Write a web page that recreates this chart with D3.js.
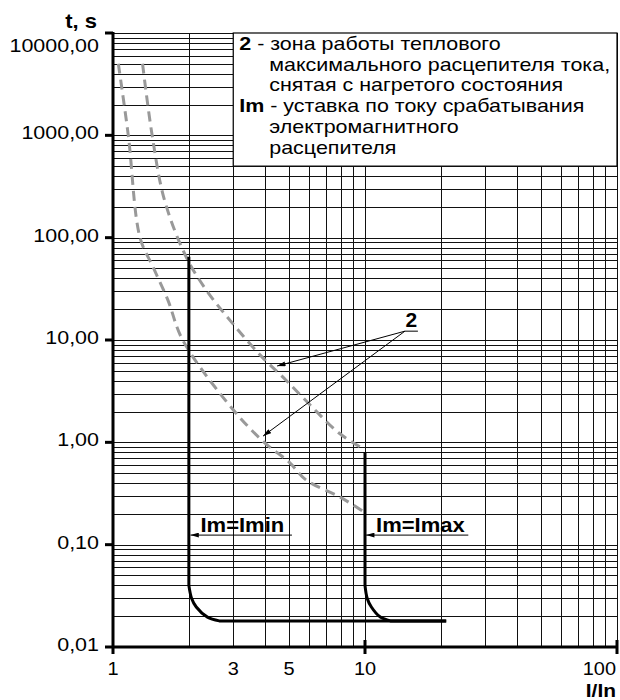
<!DOCTYPE html>
<html>
<head>
<meta charset="utf-8">
<script src="https://cdn.jsdelivr.net/npm/d3@7"></script>
<style>
  body { margin: 0; background: #fff; }
  text { font-family: "Liberation Sans", Arial, Helvetica, sans-serif; fill: #000; }
</style>
</head>
<body>
<svg id="chart" width="620" height="700"></svg>
<script>
// ---- data ----
const xDomain = [1, 100];              // I/In
const yDomain = [0.01, 10000];         // t, s
const xTickValues = [1, 3, 5, 10, 100];
const xTickLabels = ["1", "3", "5", "10", "100"];
const yTickValues = [10000, 1000, 100, 10, 1, 0.1, 0.01];
const yTickLabels = ["10000,00", "1000,00", "100,00", "10,00", "1,00", "0,10", "0,01"];

// thermal release zone "2" (hot state) – lower and upper boundaries
const thermalLowI  = [1.05, 1.15, 1.28, 1.44, 1.65, 1.89, 2.97, 3.98, 5.0, 5.83, 8.0, 9.86];
const thermalLowT  = [5000, 1000, 100, 52, 24.7, 10, 2.14, 1.0, 0.64, 0.43, 0.29, 0.21];
const thermalHighI = [1.31, 1.43, 1.60, 1.95, 2.34, 2.97, 3.9, 4.85, 6.16, 7.86, 9.7];
const thermalHighT = [5000, 1000, 234, 65, 31, 14.7, 6.84, 4.07, 2.22, 1.24, 0.88];

// electromagnetic release characteristics: vertical leg, knee, flat leg
const tripMinI = [2, 2, 2.05, 2.14, 2.37, 2.64, 21];
const tripMinT = [65, 0.04, 0.03, 0.0246, 0.0196, 0.018, 0.018];
const tripMaxI = [10, 10, 10.2, 10.6, 11.5, 12.6, 21];
const tripMaxT = [0.8, 0.04, 0.03, 0.0246, 0.0196, 0.018, 0.018];

// legend lines
const legendLines = [
  { key: "2", text: " - зона работы теплового" },
  { key: "",  text: "максимального расцепителя тока," },
  { key: "",  text: "снятая с нагретого состояния" },
  { key: "Im", text: " - уставка по току срабатывания" },
  { key: "",  text: "электромагнитного" },
  { key: "",  text: "расцепителя" }
];

// ---- layout ----
const svg = d3.select("#chart");
const plotLeft = 113, plotRight = 617, plotTop = 33, plotBottom = 647;
const stretch = 1.13;   // the lettering is set slightly wide

const x = d3.scaleLog().domain(xDomain).range([plotLeft, plotRight]);
const y = d3.scaleLog().domain(yDomain).range([plotBottom, plotTop]);

function label(parent, px, py, str, size, opts = {}) {
  const t = parent.append("text")
    .attr("transform", `translate(${px},${py}) scale(${opts.sx || stretch},1)`)
    .attr("font-size", size)
    .attr("text-anchor", opts.anchor || "start")
    .attr("font-weight", opts.bold ? "bold" : null);
  if (str !== null) t.text(str);
  return t;
}

// arrow marker
const defs = svg.append("defs");
defs.append("marker")
  .attr("id", "arrow")
  .attr("viewBox", "0 0 10 6")
  .attr("refX", 10).attr("refY", 3)
  .attr("markerWidth", 9).attr("markerHeight", 5)
  .attr("markerUnits", "userSpaceOnUse")
  .attr("orient", "auto")
  .append("path").attr("d", "M0,0 L10,3 L0,6 Z").attr("fill", "#000");

// ---- grid ----
const xGrid = [];
for (let d = 1; d < 100; d *= 10) for (let k = 1; k <= 9; k++) xGrid.push(k * d);
xGrid.push(100);
const yGrid = [];
for (let d = 0.01; d < 10000; d *= 10) for (let k = 1; k <= 9; k++) yGrid.push(+(k * d).toPrecision(3));
yGrid.push(10000);

const grid = svg.append("g").attr("shape-rendering", "crispEdges");
grid.selectAll("line.h").data(yGrid).join("line")
  .attr("x1", plotLeft).attr("x2", plotRight)
  .attr("y1", d => Math.round(y(d)) + 0.5).attr("y2", d => Math.round(y(d)) + 0.5)
  .attr("stroke", "#111").attr("stroke-width", 1);
grid.selectAll("line.v").data(xGrid).join("line")
  .attr("y1", plotTop).attr("y2", plotBottom)
  .attr("x1", d => Math.round(x(d)) + 0.5).attr("x2", d => Math.round(x(d)) + 0.5)
  .attr("stroke", "#111").attr("stroke-width", 1);

// ---- legend box (covers the grid from I=3..100, t=500..10000) ----
const lx0 = x(3), ly0 = y(10000), ly1 = y(500);
svg.append("rect")
  .attr("x", lx0).attr("y", ly0)
  .attr("width", plotRight - lx0).attr("height", ly1 - ly0)
  .attr("fill", "#fff").attr("stroke", "#000").attr("stroke-width", 1.2);

const legend = svg.append("g");
legendLines.forEach((ln, i) => {
  const t = label(legend, ln.key ? lx0 + 6 : lx0 + 36, ly0 + 17 + i * 20.7, null, 19);
  if (ln.key) t.append("tspan").attr("font-weight", "bold").text(ln.key);
  t.append("tspan").text(ln.text);
});

// ---- curves ----
const pairs = (I, T) => I.map((v, i) => [v, T[i]]);
const straight = d3.line().x(d => x(d[0])).y(d => y(d[1]));
const smooth = d3.line().x(d => x(d[0])).y(d => y(d[1])).curve(d3.curveCatmullRom.alpha(0.5));

[[thermalLowI, thermalLowT], [thermalHighI, thermalHighT]].forEach(([I, T]) => {
  svg.append("path")
    .attr("d", smooth(pairs(I, T)))
    .attr("fill", "none").attr("stroke", "#999").attr("stroke-width", 3)
    .attr("stroke-dasharray", "10,6");
});

[[tripMinI, tripMinT], [tripMaxI, tripMaxT]].forEach(([I, T]) => {
  const pts = pairs(I, T);
  const n = pts.length;
  // straight vertical leg, rounded knee, straight flat leg
  const d = straight(pts.slice(0, 2)) +
            smooth(pts.slice(1, n - 1)).replace(/^M/, "L") +
            straight(pts.slice(n - 2)).replace(/^M/, "L");
  svg.append("path")
    .attr("d", d)
    .attr("fill", "none").attr("stroke", "#000").attr("stroke-width", 3)
    .attr("stroke-linejoin", "round");
});

// ---- annotations ----
// "2" pointing at both boundaries of the thermal zone
const zoneLabel = [14.4, 12.2];
const zoneTargets = [[4.48, 5.57], [3.94, 1.15]];
label(svg, x(zoneLabel[0]) + 6.5, y(zoneLabel[1]) - 4, "2", 20, { anchor: "middle", bold: true, sx: 1.05 });
svg.append("line")
  .attr("x1", x(zoneLabel[0])).attr("x2", x(zoneLabel[0]) + 13)
  .attr("y1", y(zoneLabel[1])).attr("y2", y(zoneLabel[1]))
  .attr("stroke", "#000").attr("stroke-width", 1);
zoneTargets.forEach(p => {
  svg.append("line")
    .attr("x1", x(zoneLabel[0])).attr("y1", y(zoneLabel[1]))
    .attr("x2", x(p[0])).attr("y2", y(p[1]))
    .attr("stroke", "#000").attr("stroke-width", 1)
    .attr("marker-end", "url(#arrow)");
});

// Im=Imin / Im=Imax settings
const setLabels = [
  { text: "Im=Imin", from: 5.13, to: 2.03, t: 0.124 },
  { text: "Im=Imax", from: 25.7, to: 10.1, t: 0.124 }
];
setLabels.forEach(s => {
  label(svg, x(s.to) + 10, y(s.t) - 3, s.text, 20, { bold: true, sx: 1.1 });
  svg.append("line")
    .attr("x1", x(s.from)).attr("x2", x(s.to))
    .attr("y1", y(s.t)).attr("y2", y(s.t))
    .attr("stroke", "#000").attr("stroke-width", 1)
    .attr("marker-end", "url(#arrow)");
});

// ---- axes ----
svg.append("line")
  .attr("x1", plotLeft).attr("x2", plotLeft).attr("y1", plotTop - 1).attr("y2", plotBottom + 7)
  .attr("stroke", "#000").attr("stroke-width", 3);
svg.append("line")
  .attr("x1", plotLeft - 1).attr("x2", plotRight + 1).attr("y1", plotBottom).attr("y2", plotBottom)
  .attr("stroke", "#000").attr("stroke-width", 3);

// y ticks & labels (the top label sits under its tick to clear the axis title)
yTickValues.forEach((v, i) => {
  svg.append("line")
    .attr("x1", plotLeft - 8).attr("x2", plotLeft)
    .attr("y1", y(v)).attr("y2", y(v))
    .attr("stroke", "#000").attr("stroke-width", 3);
  label(svg, plotLeft - 14, y(v) + (i === 0 ? 19 : 4), yTickLabels[i], 19, { anchor: "end" });
});

// x ticks & labels
[10, 100].forEach(v => {
  svg.append("line")
    .attr("x1", x(v)).attr("x2", x(v))
    .attr("y1", plotBottom - 7).attr("y2", plotBottom + 7)
    .attr("stroke", "#000").attr("stroke-width", 3);
});
xTickValues.forEach((v, i) => {
  const isLast = v === 100;
  label(svg, isLast ? plotRight - 1 : x(v), plotBottom + 28, xTickLabels[i], 19,
        { anchor: isLast ? "end" : "middle", sx: 1.05 });
});

// axis titles
label(svg, 97, 28, "t, s", 20, { anchor: "end", bold: true, sx: 1.1 });
label(svg, plotRight - 1, 697, "I/In", 19, { anchor: "end", bold: true, sx: 1.1 });
</script>
</body>
</html>
